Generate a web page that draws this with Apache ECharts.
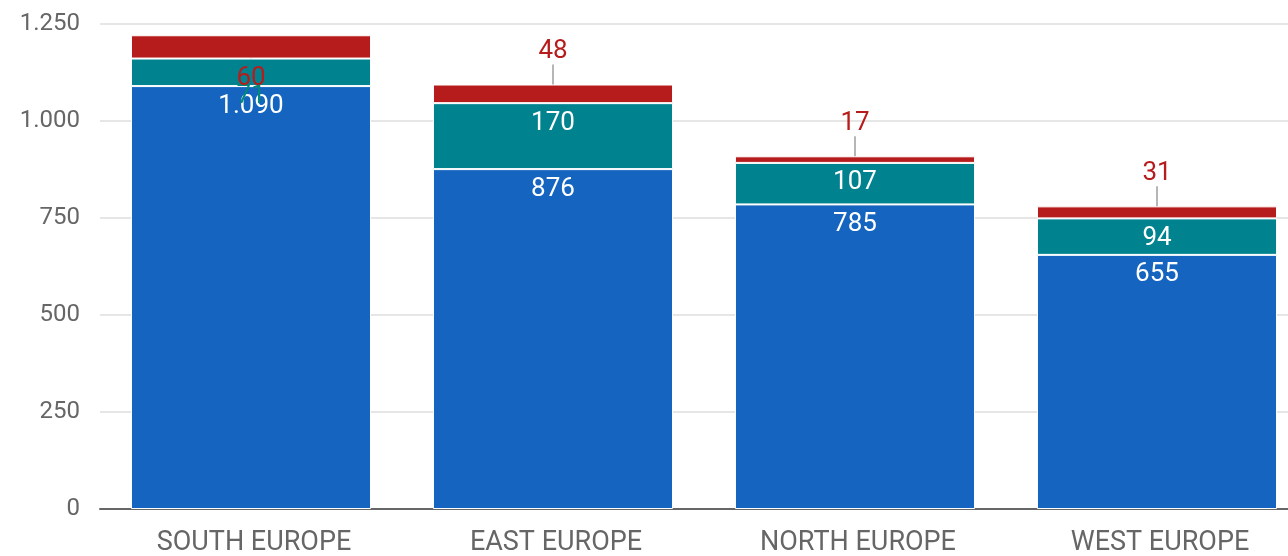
<!DOCTYPE html>
<html style="height: 100%">
<head>
<meta charset="utf-8">
<style type="text/css">
* { margin: 0; padding: 0; }
</style>
</head>
<body style="height: 100%; margin: 0; background: #fff">
<div id="main" style="width: 1288px; height: 556px"></div>
<script type="text/javascript" src="https://cdn.jsdelivr.net/npm/echarts@6/dist/echarts.min.js"></script>
<script type="text/javascript">
var regions = ['SOUTH EUROPE', 'EAST EUROPE', 'NORTH EUROPE', 'WEST EUROPE'];
var blueValues = [1090, 876, 785, 655];
var tealValues = [71, 170, 107, 94];
var redValues = [60, 48, 17, 31];
var yTicks = [0, 250, 500, 750, 1000, 1250];

function fmt(v) {
	return String(v).replace(/\B(?=(\d{3})+(?!\d))/g, '.');
}

var myChart = echarts.init(document.getElementById('main'));

var tealData = tealValues.map(function (v, i) {
	if (i === 0) {
		// small segment: label falls below, in series colour
		return { value: v, label: { position: 'bottom', distance: -3, color: '#00897B' } };
	}
	return v;
});

option = {
	backgroundColor: '#fff',
	animation: false,
	textStyle: { fontFamily: 'Roboto' },
	grid: { left: 100, width: 1208, top: 24, bottom: 47, containLabel: false, outerBoundsMode: 'none' },
	xAxis: {
		type: 'category',
		data: regions,
		axisTick: { show: false },
		axisLine: { lineStyle: { color: '#666', width: 2 } },
		axisLabel: { color: '#666', fontSize: 27, margin: 21, fontFamily: 'Roboto', padding: [0, 0, 0, 6] }
	},
	yAxis: {
		type: 'value',
		min: yTicks[0],
		max: yTicks[yTicks.length - 1],
		interval: 250,
		axisLine: { show: false },
		axisTick: { show: false },
		splitLine: { lineStyle: { color: '#e6e6e6', width: 2 } },
		axisLabel: { color: '#666', fontSize: 24, margin: 20, formatter: fmt, fontFamily: 'Roboto' }
	},
	series: [{
		type: 'bar',
		stack: 'total',
		barWidth: '79.5%',
		data: blueValues,
		itemStyle: { color: '#1565C0', borderColor: '#fff', borderWidth: 1 },
		label: { show: true, position: 'insideTop', distance: 7, color: '#fff', fontSize: 26, formatter: function (p) { return fmt(p.value); } }
	}, {
		type: 'bar',
		stack: 'total',
		data: tealData,
		itemStyle: { color: '#00838F', borderColor: '#fff', borderWidth: 1 },
		label: { show: true, position: 'insideTop', distance: 7, color: '#fff', fontSize: 26 }
	}, {
		type: 'bar',
		stack: 'total',
		data: redValues,
		itemStyle: { color: '#B71C1C', borderColor: '#fff', borderWidth: 1 },
		label: { show: true, position: 'top', distance: 5, color: '#B71C1C', fontSize: 26 },
		labelLine: { show: true, lineStyle: { color: '#9e9e9e', width: 1.5 } },
		labelLayout: function (params) {
			if (params.dataIndex === 0) {
				return { dy: 61 };
			}
			return { dy: -15 };
		}
	}]
};

myChart.setOption(option);
</script>
</body>
</html>
